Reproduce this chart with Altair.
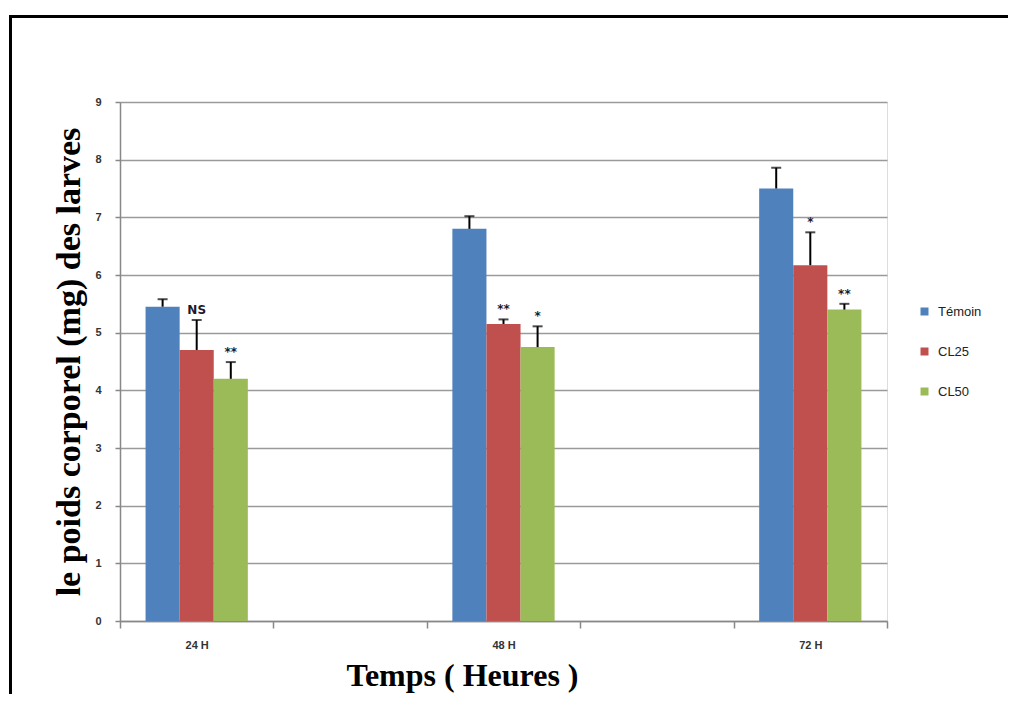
import altair as alt
import pandas as pd

times = ["24 H", "48 H", "72 H"]
x_domain = ["24 H", "gap1", "48 H", "gap2", "72 H"]
series = ["Témoin", "CL25", "CL50"]
colors = ["#4F81BD", "#C0504D", "#9BBB59"]

temoin = [5.45, 6.80, 7.50]
cl25 = [4.70, 5.15, 6.17]
cl50 = [4.20, 4.75, 5.40]

temoin_err = [0.13, 0.22, 0.36]
cl25_err = [0.52, 0.08, 0.57]
cl50_err = [0.29, 0.36, 0.10]

temoin_sig = ["", "", ""]
cl25_sig = ["NS", "**", "*"]
cl50_sig = ["**", "*", "**"]

rows = []
for name, vals, errs, sigs in [
    ("Témoin", temoin, temoin_err, temoin_sig),
    ("CL25", cl25, cl25_err, cl25_sig),
    ("CL50", cl50, cl50_err, cl50_sig),
]:
    for t, v, e, s in zip(times, vals, errs, sigs):
        rows.append({"temps": t, "serie": name, "valeur": v, "haut": v + e, "sig": s})
df = pd.DataFrame(rows)

x_scale = alt.Scale(domain=x_domain, paddingInner=0, paddingOuter=0)
x_enc = alt.X(
    "temps:N",
    scale=x_scale,
    axis=alt.Axis(
        title="Temps ( Heures )",
        labelAngle=0,
        labelExpr="indexof(datum.label, 'gap') >= 0 ? '' : datum.label",
        tickBand="extent",
        tickSize=7,
        tickColor="#888888",
        tickWidth=1.5,
        domainColor="#888888",
        domainWidth=1.5,
        labelFont="Liberation Sans",
        labelFontSize=11,
        labelFontWeight="bold",
        labelColor="#333333",
        labelPadding=11,
        titleFont="Liberation Serif",
        titleFontSize=32,
        titleFontWeight="bold",
        titleColor="#000000",
        titleX=342,
        titleY=64,
        titleAlign="center",
        titleBaseline="alphabetic",
        grid=False,
    ),
)
xoff = alt.XOffset(
    "serie:N",
    scale=alt.Scale(domain=series, paddingInner=0, paddingOuter=0.75),
)
y_scale = alt.Scale(domain=[0, 9], nice=False)
y_axis = alt.Axis(
    title="le poids corporel (mg) des  larves",
    values=list(range(0, 10)),
    format="d",
    tickSize=5,
    tickColor="#888888",
    tickWidth=1.5,
    domainColor="#888888",
    domainWidth=1.5,
    gridColor="#9a9a9a",
    gridWidth=1.5,
    labelFont="Liberation Sans",
    labelFontSize=11,
    labelFontWeight="bold",
    labelColor="#333333",
    labelPadding=14,
    titleFont="Liberation Serif",
    titleFontSize=34,
    titleFontWeight="bold",
    titleColor="#000000",
    titlePadding=8,
)

base = alt.Chart(df)

bars = base.mark_bar().encode(
    x=x_enc,
    xOffset=xoff,
    y=alt.Y("valeur:Q", scale=y_scale, axis=y_axis),
    color=alt.Color(
        "serie:N",
        scale=alt.Scale(domain=series, range=colors),
        legend=alt.Legend(
            title=None,
            orient="none",
            legendX=798,
            legendY=203,
            symbolType="square",
            symbolSize=64,
            symbolStrokeWidth=0,
            labelFont="Liberation Sans",
            labelFontSize=13,
            labelColor="#222222",
            rowPadding=26,
            labelOffset=7,
            padding=0,
        ),
    ),
)

err_rule = base.mark_rule(color="black", strokeWidth=2).encode(
    x=alt.X("temps:N", scale=x_scale),
    xOffset=xoff,
    y=alt.Y("valeur:Q", scale=y_scale),
    y2="haut:Q",
)

err_cap = base.mark_tick(color="black", thickness=2, size=10).encode(
    x=alt.X("temps:N", scale=x_scale),
    xOffset=xoff,
    y=alt.Y("haut:Q", scale=y_scale),
)

sig_text = base.mark_text(
    font="DejaVu Sans", fontSize=12, fontWeight="bold", color="#1a1a2e",
    baseline="alphabetic", dy=-6,
).encode(
    x=alt.X("temps:N", scale=x_scale),
    xOffset=xoff,
    y=alt.Y("haut:Q", scale=y_scale),
    text="sig:N",
)

frame = alt.Chart(pd.DataFrame({"f": [0]})).mark_rect(
    fill=None, stroke="black", strokeWidth=3
).encode(
    x=alt.value(-109.5),
    x2=alt.value(1000),
    y=alt.value(-85.5),
    y2=alt.value(700),
)

chart = alt.layer(bars, err_rule, err_cap, sig_text, frame).properties(
    width=767,
    height=519,
    autosize=alt.AutoSizeParams(type="none"),
    padding={"left": 112, "top": 94, "right": 121, "bottom": 73},
).configure_view(stroke=None).configure(background="white")

chart.save("out.html", embed_options={"renderer": "svg", "actions": False})
